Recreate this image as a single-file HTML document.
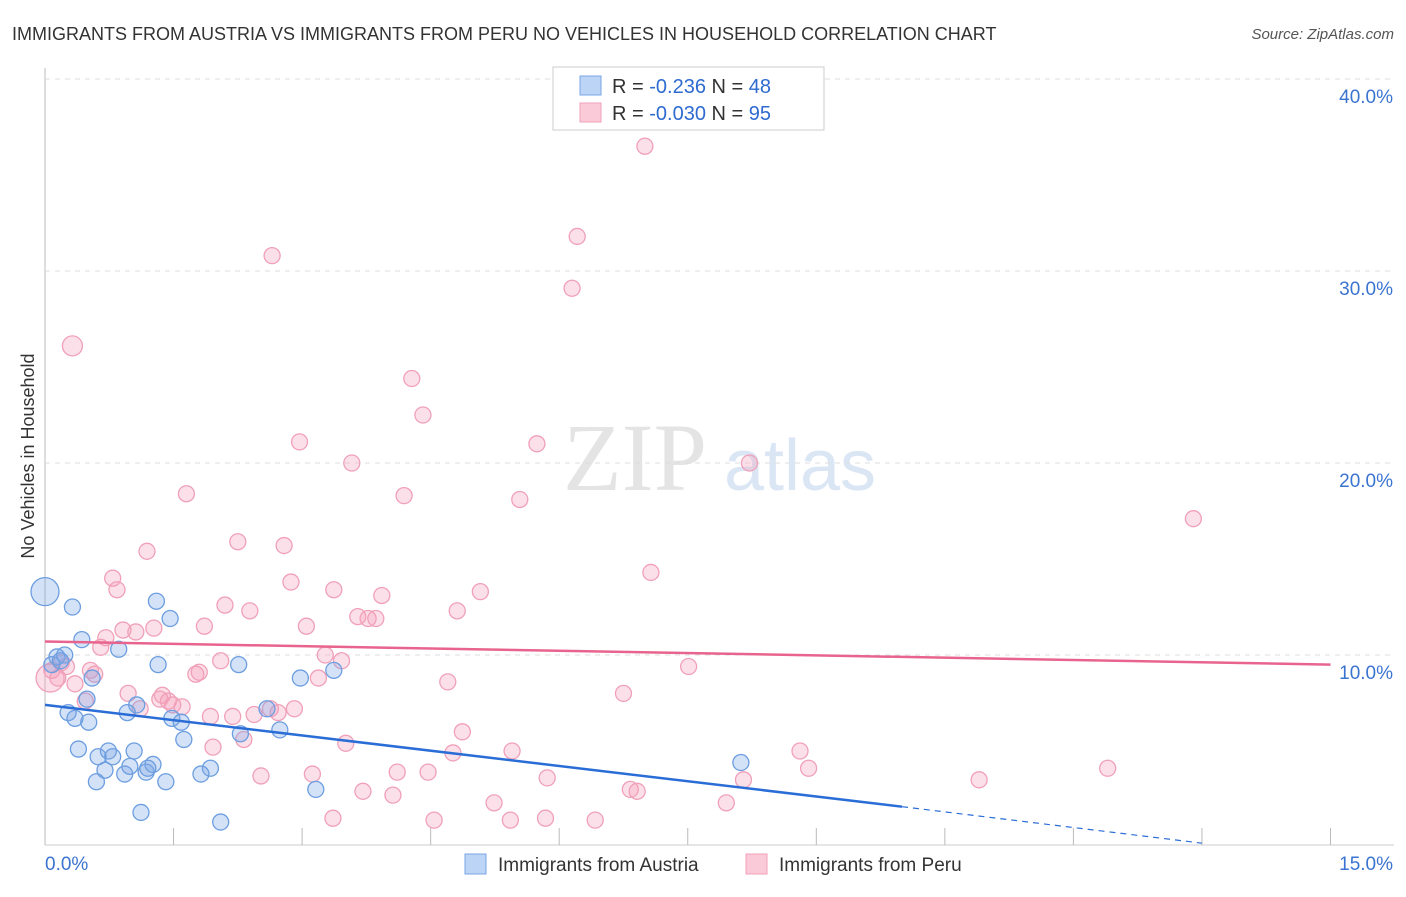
<!DOCTYPE html>
<html><head><meta charset="utf-8"><style>
body{margin:0;background:#fff;font-family:"Liberation Sans",sans-serif}
</style></head><body>
<svg id="c" width="1406" height="892" xmlns="http://www.w3.org/2000/svg" font-family="Liberation Sans, sans-serif">
<text x="12" y="40" font-size="18" fill="#333">IMMIGRANTS FROM AUSTRIA VS IMMIGRANTS FROM PERU NO VEHICLES IN HOUSEHOLD CORRELATION CHART</text>
<text x="1394" y="39" font-size="15" fill="#555" text-anchor="end" font-style="italic">Source: ZipAtlas.com</text>
<text x="635" y="490" font-size="96" fill="#e4e4e4" font-family="Liberation Serif, serif" text-anchor="middle">ZIP</text>
<text x="800" y="490" font-size="72" fill="#dbe6f5" text-anchor="middle">atlas</text>
<text x="34" y="456" font-size="18" fill="#333" text-anchor="middle" transform="rotate(-90 34 456)">No Vehicles in Household</text>
<g id="grid"></g><g id="pts"></g><g id="trend"></g>
<g>
<rect x="553" y="67" width="271" height="63" fill="#fff" stroke="#ccc"/>
<rect x="580" y="76" width="21" height="19" fill="#bcd4f5" stroke="#7aa6e6"/>
<rect x="580" y="103" width="21" height="19" fill="#fbcad8" stroke="#f0a0b8"/>
<text x="612" y="93" font-size="20" fill="#333">R = <tspan fill="#2d6bd0">-0.236</tspan>   N = <tspan fill="#2d6bd0">48</tspan></text>
<text x="612" y="120" font-size="20" fill="#333">R = <tspan fill="#2d6bd0">-0.030</tspan>   N = <tspan fill="#2d6bd0">95</tspan></text>
</g>
<g>
<rect x="465" y="854" width="21" height="20" fill="#bcd4f5" stroke="#7aa6e6"/>
<text x="498" y="871" font-size="19" fill="#333">Immigrants from Austria</text>
<rect x="746" y="854" width="21" height="20" fill="#fbcad8" stroke="#f0a0b8"/>
<text x="779" y="871" font-size="19" fill="#333">Immigrants from Peru</text>
</g>
</svg>
<script>
const xTicks=[0,1.5,3,4.5,6,7.5,9,10.5,12,13.5,15];
const yTicks=[10,20,30,40];
const austriaX=[0,0.32,0.43,0.86,0.14,0.23,0.08,0.18,0.55,0.49,0.27,0.35,0.51,0.39,0.62,0.74,0.79,0.70,0.60,0.93,1.04,0.99,1.18,1.26,1.20,1.41,1.12,1.30,1.46,1.32,1.07,0.96,1.48,1.59,1.62,1.93,1.82,2.05,2.26,2.28,2.59,2.74,2.98,3.16,3.37,8.12];
const austriaY=[13.3,12.5,10.8,10.3,9.9,10.0,9.5,9.7,8.8,7.7,7.0,6.7,6.5,5.1,4.7,5.0,4.7,4.0,3.4,3.8,5.0,4.2,3.9,4.3,4.1,3.4,1.8,12.8,11.9,9.5,7.4,7.0,6.7,6.5,5.6,4.1,3.8,1.3,9.5,5.9,7.2,6.1,8.8,3.0,9.2,4.4];
const austriaR=[14,8,8,8,8,8,8,8,8,8,8,8,8,8,8,8,8,8,8,8,8,8,8,8,8,8,8,8,8,8,8,8,8,8,8,8,8,8,8,8,8,8,8,8,8,8];
const peruX=[7.0,6.21,2.65,6.15,0.32,4.28,4.41,2.97,5.74,3.58,8.22,1.65,4.19,5.54,13.4,1.19,2.25,2.79,7.07,0.79,2.87,0.84,3.37,5.08,3.93,2.10,2.39,4.81,3.65,3.77,3.86,1.86,1.27,0.91,1.06,3.05,0.71,0.65,3.27,3.46,2.05,0.19,0.25,0.08,0.15,0.53,0.58,1.76,1.80,3.19,4.70,7.51,0.97,1.34,1.37,0.47,1.11,1.44,1.49,1.60,1.93,2.19,2.44,2.63,2.91,2.72,6.75,4.87,1.96,2.32,3.51,4.76,5.45,8.81,8.91,12.4,10.9,8.15,5.86,4.47,4.11,3.12,2.52,5.24,3.71,4.06,6.83,6.91,7.95,5.84,5.43,6.42,4.54,3.36,0.35,0.06];
const peruY=[36.5,31.8,30.8,29.1,26.1,24.4,22.5,21.1,21.0,20.0,20.0,18.4,18.3,18.1,17.1,15.4,15.9,15.7,14.3,14.0,13.8,13.4,13.4,13.3,13.1,12.6,12.3,12.3,12.0,11.9,11.9,11.5,11.4,11.3,11.2,11.5,10.9,10.4,10.0,9.7,9.7,9.6,9.4,9.2,8.8,9.2,9.0,9.0,9.1,8.8,8.6,9.4,8.0,7.7,7.9,7.6,7.2,7.6,7.4,7.3,6.8,6.8,6.9,7.2,7.2,7.0,8.0,6.0,5.2,5.6,5.4,4.9,5.0,5.0,4.1,4.1,3.5,3.5,3.6,3.9,3.9,3.8,3.7,2.3,2.9,2.7,3.0,2.9,2.3,1.5,1.4,1.4,1.4,1.5,8.5,8.8];
const peruR=[];for(let i=0;i<peruX.length;i++)peruR.push(i===peruX.length-1?14:(i===4?10:8));
const austriaTrend=[[0,7.4],[10,2.1]];const austriaDash=[[10,2.1],[13.5,0.2]];
const peruTrend=[[0,10.7],[15,9.5]];
const X=v=>45+v*85.7, Y=v=>847-v*19.2;
const NS="http://www.w3.org/2000/svg";
function mk(t,a,p){const e=document.createElementNS(NS,t);for(const k in a)e.setAttribute(k,a[k]);p.appendChild(e);return e;}
const g=document.getElementById('grid');
let ax=mk('line',{x1:45,y1:68,x2:45,y2:845,stroke:'#bbb'},g);


let bx=mk('line',{x1:45,y1:845,x2:1394,y2:845,stroke:'#ccc'},g);


yTicks.forEach(v=>{
 const l=mk('line',{x1:45,y1:Y(v),x2:1394,y2:Y(v),stroke:'#ddd','stroke-dasharray':'5,5'},g);
 
 
 const t=mk('text',{x:1393,y:Y(v)+24,'font-size':19,fill:'#3b74d0','text-anchor':'end'},g);t.textContent=v.toFixed(1)+'%';
 
 
});
xTicks.forEach(v=>{
 const l=mk('line',{x1:X(v),y1:828,x2:X(v),y2:845,stroke:'#bbb'},g);
 
 
});
[[0,'0.0%','start',45],[15,'15.0%','end',1393]].forEach(a=>{
 const t=mk('text',{x:a[3],y:870,'font-size':19,fill:'#3b74d0','text-anchor':a[2]},g);t.textContent=a[1];
 
 
});
const p=document.getElementById('pts');
peruX.forEach((x,i)=>{const c=mk('circle',{cx:X(x),cy:Y(peruY[i]),r:peruR[i],fill:'rgba(245,160,188,0.32)',stroke:'#f0a0b8','stroke-width':1.3},p);
 
 });
austriaX.forEach((x,i)=>{const c=mk('circle',{cx:X(x),cy:Y(austriaY[i]),r:austriaR[i],fill:'rgba(120,165,230,0.32)',stroke:'#6c9ee0','stroke-width':1.3},p);
 
 });
const tr=document.getElementById('trend');
let l1=mk('line',{x1:X(peruTrend[0][0]),y1:Y(peruTrend[0][1]),x2:X(peruTrend[1][0]),y2:Y(peruTrend[1][1]),stroke:'#e8648e','stroke-width':2.5},tr);


let l2=mk('line',{x1:X(austriaTrend[0][0]),y1:Y(austriaTrend[0][1]),x2:X(austriaTrend[1][0]),y2:Y(austriaTrend[1][1]),stroke:'#2a6dd6','stroke-width':2.5},tr);


let l3=mk('line',{x1:X(austriaDash[0][0]),y1:Y(austriaDash[0][1]),x2:X(austriaDash[1][0]),y2:Y(austriaDash[1][1]),stroke:'#2a6dd6','stroke-width':1.2,'stroke-dasharray':'6,5'},tr);


</script>
</body></html>
